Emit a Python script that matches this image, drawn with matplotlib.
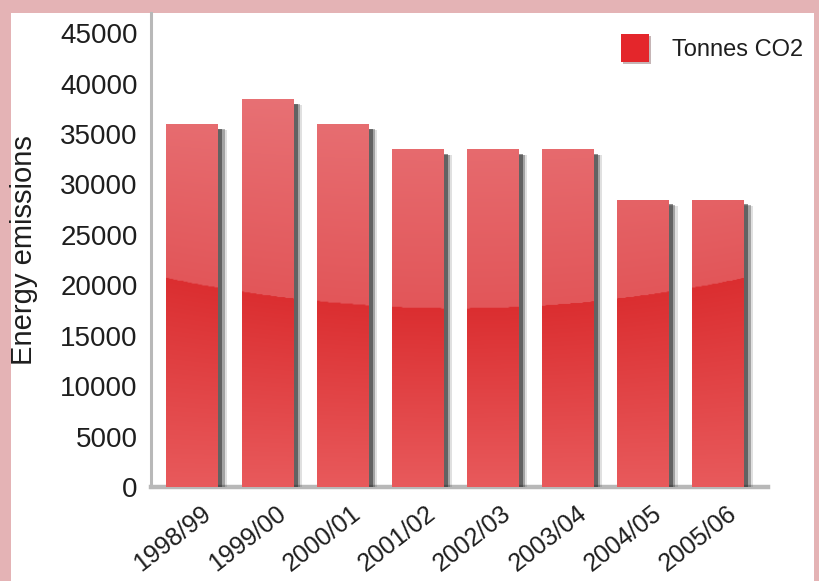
import numpy as np
import matplotlib
matplotlib.use("Agg")
import matplotlib.pyplot as plt
import matplotlib.patheffects as pe
import matplotlib.transforms as mtransforms
from matplotlib.patches import Rectangle

plt.rcParams['font.family'] = ['Liberation Sans', 'DejaVu Sans']

# =====================================================
# DATA
# =====================================================

years = ['1998/99', '1999/00', '2000/01', '2001/02',
         '2002/03', '2003/04', '2004/05', '2005/06']
tonnes = [36000, 38500, 36000, 33500, 33500, 33500, 28500, 28500]
series_name = 'Tonnes CO2'
yticks = [0, 5000, 10000, 15000, 20000, 25000, 30000, 35000, 40000, 45000]

# =====================================================
# FIGURE
# =====================================================

W, H = 819, 581
fig = plt.figure(figsize=(W / 100, H / 100), dpi=100)
fig.patch.set_facecolor('#e4b3b5')
fig.add_artist(Rectangle((11 / W, 0), (814 - 11) / W, (H - 13) / H,
                         transform=fig.transFigure, facecolor='white',
                         edgecolor='none', zorder=0))

ax = fig.add_axes([151 / W, (H - 487) / H, (768 - 151) / W, (487 - 13) / H])
ax.set_facecolor('none')

xlo, xhi, ytop = -0.55, 7.66, 47000
x = np.arange(len(years))

shadow = [
    pe.SimplePatchShadow(offset=(6, -4.5), shadow_rgbFace='#333333', alpha=0.15),
    pe.SimplePatchShadow(offset=(4.5, -4), shadow_rgbFace='#333333', alpha=0.35),
    pe.SimplePatchShadow(offset=(3, -3.5), shadow_rgbFace='#222222', alpha=0.5),
    pe.Normal(),
]

bars = ax.bar(x, tonnes, width=0.69, color='#e25a5c', zorder=2,
              path_effects=shadow)

# glossy gradient fill clipped to each bar
gx = np.linspace(xlo, xhi, 300)
gy = np.linspace(0, ytop, 500)
X, Y = np.meshgrid(gx, gy)
bound = 17700 + 200 * (X - 3.5) ** 2

c_top = np.array([234, 124, 128]) / 255
c_up = np.array([226, 86, 89]) / 255
c_low = np.array([219, 46, 48]) / 255
c_bot = np.array([232, 90, 92]) / 255

t = np.clip((Y - bound) / (ytop - bound), 0, 1)[..., None]
s = np.clip(Y / bound, 0, 1)[..., None]
upper = c_up + (c_top - c_up) * t
lower = c_bot + (c_low - c_bot) * s
img = np.where((Y >= bound)[..., None], upper, lower)

for b in bars:
    im = ax.imshow(img, origin='lower', extent=(xlo, xhi, 0, ytop),
                   aspect='auto', zorder=3, interpolation='bilinear')
    im.set_clip_path(b)

ax.set_xlim(xlo, xhi)
ax.set_ylim(0, ytop)

# =====================================================
# AXES STYLE
# =====================================================

for side in ['top', 'right']:
    ax.spines[side].set_visible(False)
ax.spines['left'].set_color('#b8b8b8')
ax.spines['left'].set_linewidth(2.2)
ax.spines['bottom'].set_color('#b8b8b8')
ax.spines['bottom'].set_linewidth(3.2)
ax.spines['bottom'].set_zorder(1)

ax.set_yticks(yticks)
ax.set_yticklabels([str(v) for v in yticks])
ax.tick_params(axis='y', length=0, labelsize=20, pad=9.5, labelcolor='#1e1e1e')
ax.tick_params(axis='x', length=0, labelsize=18, pad=17, labelcolor='#1e1e1e')

ax.set_xticks(x)
ax.set_xticklabels(years, rotation=38, ha='right', va='center',
                   rotation_mode='anchor')
shift = mtransforms.ScaledTranslation(0.155, 0, fig.dpi_scale_trans)
for lbl in ax.get_xticklabels():
    lbl.set_transform(lbl.get_transform() + shift)

ax.set_ylabel('Energy emissions', fontsize=21, color='#1e1e1e')
ax.yaxis.set_label_coords((24 - 151) / (768 - 151), 0.5)
ax.yaxis.label.set_va('center')

# =====================================================
# LEGEND
# =====================================================

handle = Rectangle((0, 0), 1, 1, facecolor='#e4262b', edgecolor='none',
                   path_effects=[pe.SimplePatchShadow(offset=(1.5, -1.5),
                                                      alpha=0.3),
                                 pe.Normal()])
ax.legend([handle], [series_name], loc='upper left',
          bbox_to_anchor=(621 / W, 1 - 34 / H), bbox_transform=fig.transFigure,
          frameon=False, fontsize=17, handlelength=1.18, handleheight=1.43,
          handletextpad=1.0, borderpad=0, borderaxespad=0,
          labelcolor='#1e1e1e')

fig.savefig('out.png', dpi=100, facecolor=fig.get_facecolor())
